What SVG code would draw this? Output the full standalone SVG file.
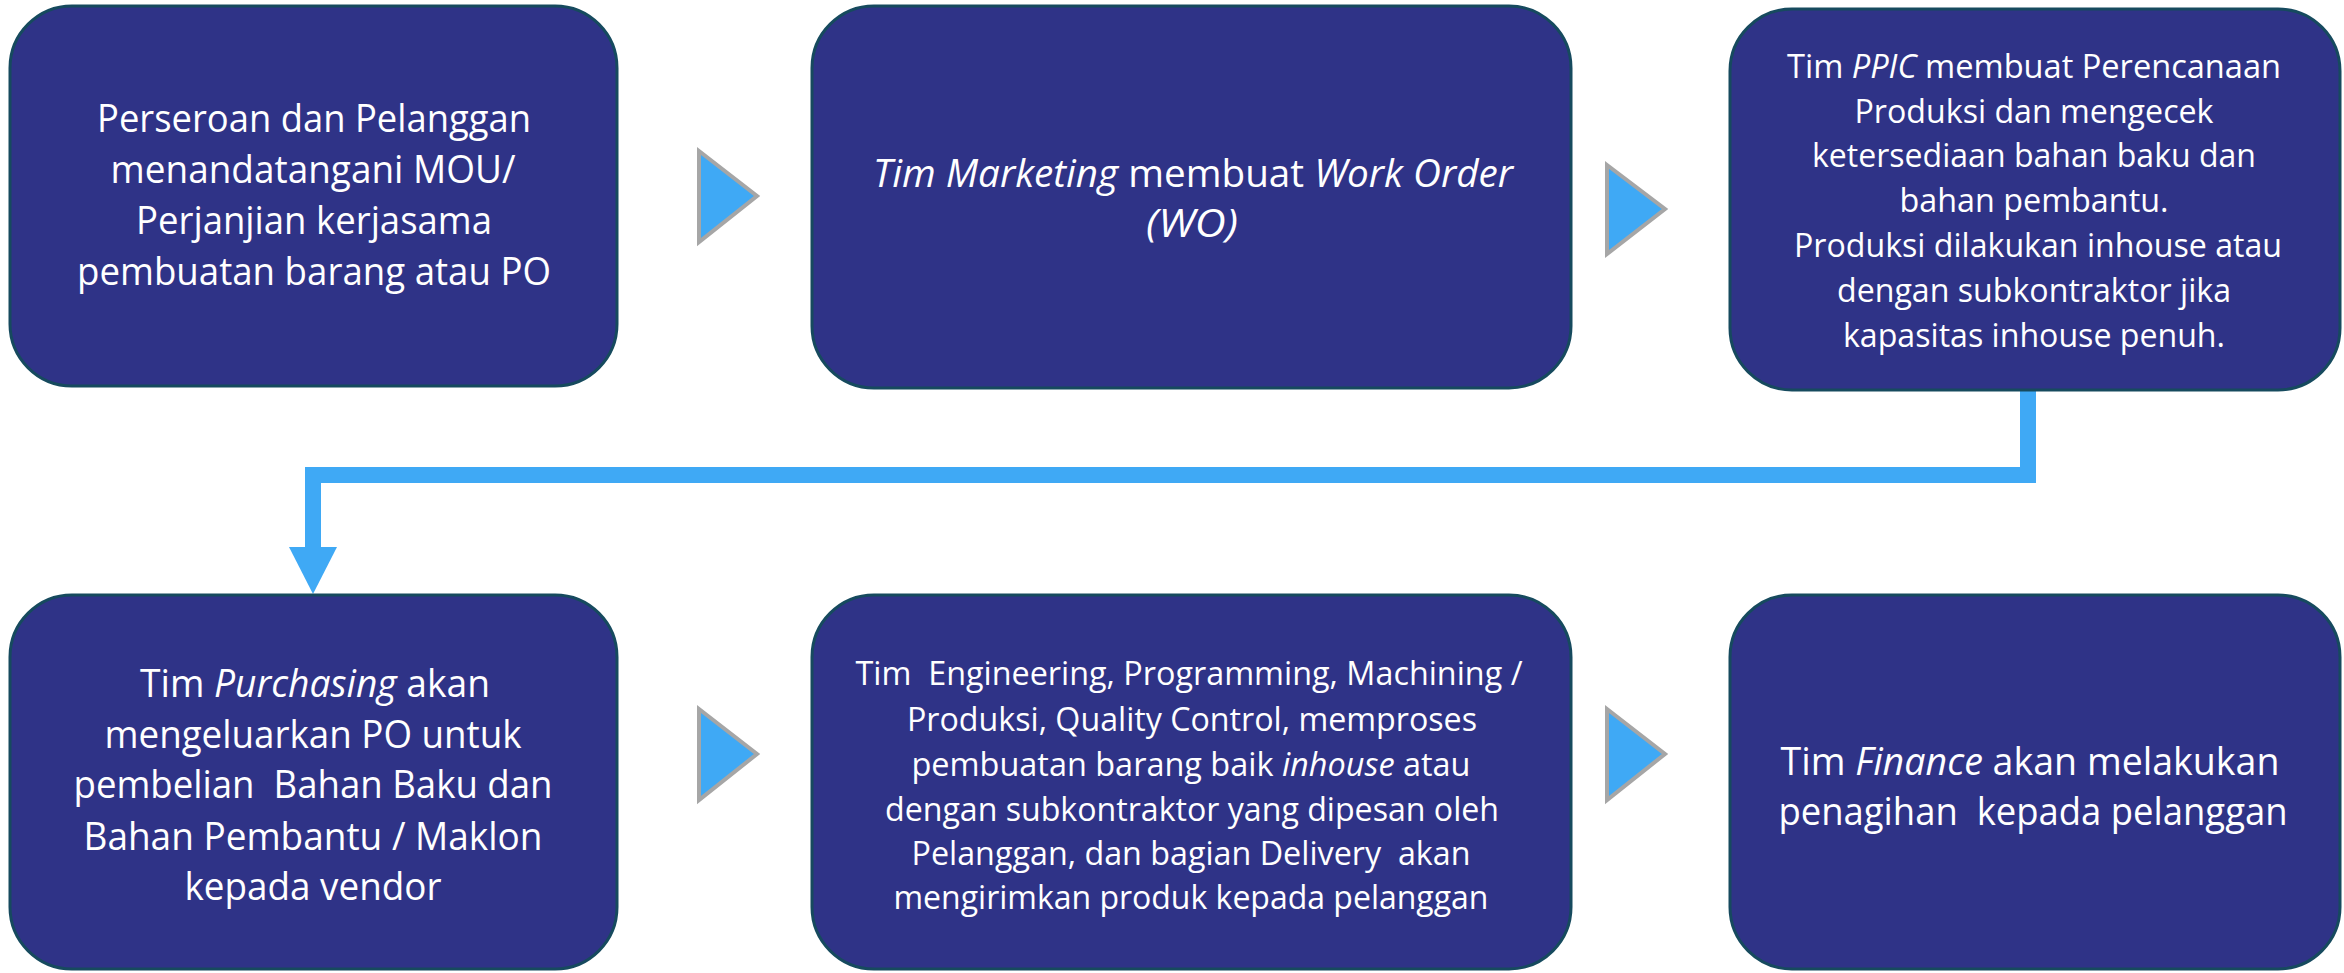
<svg xmlns="http://www.w3.org/2000/svg" width="2344" height="973" viewBox="0 0 2344 973">
<style>
.box{fill:#2F3387;stroke:#164A5E;stroke-width:3}
.tri{fill:#3FA9F5;stroke:#A6A6A6;stroke-width:4;stroke-miterlimit:10}
.t{font-family:"Open Sans","Noto Sans","Liberation Sans",sans-serif;fill:#FFFFFF;text-anchor:middle;white-space:pre}
.big{font-size:39px}
.sm{font-size:33px}
.i{font-style:italic}
.conn{fill:none;stroke:#3FA9F5;stroke-width:16;stroke-linejoin:miter}
</style>
<rect width="2344" height="973" fill="#FFFFFF"/>
<g id="connectors">
<polygon class="tri" points="699,151 757,196 699,242"/>
<polygon class="tri" points="1607,165 1665,209 1607,254"/>
<polygon class="tri" points="699,709 757,754 699,800"/>
<polygon class="tri" points="1607,709 1665,754 1607,800"/>
<path class="conn" d="M2028,390 V475 H313 V548"/>
<polygon points="289,547 337,547 313,594" fill="#3FA9F5"/>
</g>
<g id="node1">
<rect class="box" x="10" y="6" width="607" height="380" rx="62" ry="62"/>
<text class="t big" x="314" y="132" textLength="434" lengthAdjust="spacingAndGlyphs">Perseroan dan Pelanggan</text>
<text class="t big" x="313" y="183" textLength="405" lengthAdjust="spacingAndGlyphs">menandatangani MOU/</text>
<text class="t big" x="314" y="234" textLength="356" lengthAdjust="spacingAndGlyphs">Perjanjian kerjasama</text>
<text class="t big" x="314" y="285" textLength="474" lengthAdjust="spacingAndGlyphs">pembuatan barang atau PO</text>
</g>
<g id="node2">
<rect class="box" x="812" y="6" width="759" height="382" rx="62" ry="62"/>
<text class="t big" x="1193" y="187" textLength="640" lengthAdjust="spacingAndGlyphs"><tspan class="i">Tim Marketing</tspan> membuat <tspan class="i">Work Order</tspan></text>
<text class="t big i" x="1192" y="237" textLength="92" lengthAdjust="spacingAndGlyphs">(WO)</text>
</g>
<g id="node3">
<rect class="box" x="1730" y="9" width="610" height="381" rx="62" ry="62"/>
<text class="t sm" x="2034" y="78" textLength="494" lengthAdjust="spacingAndGlyphs">Tim <tspan class="i">PPIC</tspan> membuat Perencanaan</text>
<text class="t sm" x="2034" y="123" textLength="359" lengthAdjust="spacingAndGlyphs">Produksi dan mengecek</text>
<text class="t sm" x="2034" y="167" textLength="444" lengthAdjust="spacingAndGlyphs">ketersediaan bahan baku dan</text>
<text class="t sm" x="2034" y="212" textLength="269" lengthAdjust="spacingAndGlyphs">bahan pembantu.</text>
<text class="t sm" x="2038" y="257" textLength="488" lengthAdjust="spacingAndGlyphs">Produksi dilakukan inhouse atau</text>
<text class="t sm" x="2034" y="302" textLength="394" lengthAdjust="spacingAndGlyphs">dengan subkontraktor jika</text>
<text class="t sm" x="2034" y="347" textLength="382" lengthAdjust="spacingAndGlyphs">kapasitas inhouse penuh.</text>
</g>
<g id="node4">
<rect class="box" x="10" y="595" width="607" height="374" rx="62" ry="62"/>
<text class="t big" x="315" y="697" textLength="350" lengthAdjust="spacingAndGlyphs">Tim <tspan class="i">Purchasing</tspan> akan</text>
<text class="t big" x="313" y="748" textLength="417" lengthAdjust="spacingAndGlyphs">mengeluarkan PO untuk</text>
<text class="t big" x="313" y="798" textLength="479" lengthAdjust="spacingAndGlyphs" xml:space="preserve">pembelian  Bahan Baku dan</text>
<text class="t big" x="313" y="850" textLength="459" lengthAdjust="spacingAndGlyphs">Bahan Pembantu / Maklon</text>
<text class="t big" x="313" y="900" textLength="257" lengthAdjust="spacingAndGlyphs">kepada vendor</text>
</g>
<g id="node5">
<rect class="box" x="812" y="595" width="759" height="374" rx="62" ry="62"/>
<text class="t sm" x="1189" y="685" textLength="667" lengthAdjust="spacingAndGlyphs" xml:space="preserve">Tim  Engineering, Programming, Machining /</text>
<text class="t sm" x="1192" y="731" textLength="570" lengthAdjust="spacingAndGlyphs">Produksi, Quality Control, memproses</text>
<text class="t sm" x="1191" y="776" textLength="559" lengthAdjust="spacingAndGlyphs">pembuatan barang baik <tspan class="i">inhouse</tspan> atau</text>
<text class="t sm" x="1192" y="821" textLength="614" lengthAdjust="spacingAndGlyphs">dengan subkontraktor yang dipesan oleh</text>
<text class="t sm" x="1191" y="865" textLength="559" lengthAdjust="spacingAndGlyphs" xml:space="preserve">Pelanggan, dan bagian Delivery  akan</text>
<text class="t sm" x="1191" y="909" textLength="595" lengthAdjust="spacingAndGlyphs">mengirimkan produk kepada pelanggan</text>
</g>
<g id="node6">
<rect class="box" x="1730" y="595" width="610" height="374" rx="62" ry="62"/>
<text class="t big" x="2030" y="775" textLength="499" lengthAdjust="spacingAndGlyphs">Tim <tspan class="i">Finance</tspan> akan melakukan</text>
<text class="t big" x="2033" y="825" textLength="509" lengthAdjust="spacingAndGlyphs" xml:space="preserve">penagihan  kepada pelanggan</text>
</g>
</svg>
